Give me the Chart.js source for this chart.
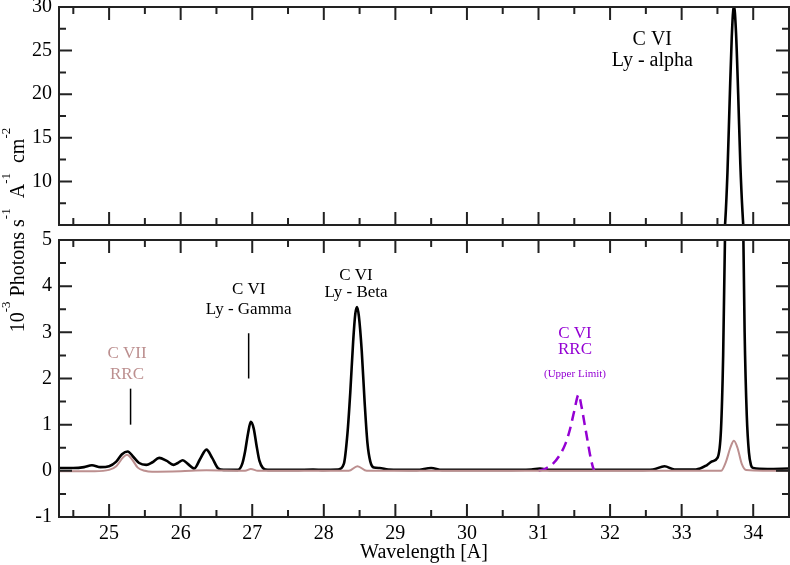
<!DOCTYPE html>
<html><head><meta charset="utf-8">
<script src="https://cdn.jsdelivr.net/npm/chart.js@4.4.0/dist/chart.umd.min.js"></script>
<style>
html,body{margin:0;padding:0;background:#fff;}
#wrap{position:relative;width:790px;height:565px;}
canvas{position:absolute;left:0;top:0;}
</style></head><body>
<div id="wrap"><canvas id="cb" width="790" height="565"></canvas><canvas id="ct" width="790" height="565"></canvas></div>
<script>
// ---------- DATA ----------
const xRange = [24.3, 34.5];
const topRange = [5, 30];
const bottomRange = [-1, 5];
const xMajorTicks = [25, 26, 27, 28, 29, 30, 31, 32, 33, 34];
const xMinorTicks = [24.5, 25.5, 26.5, 27.5, 28.5, 29.5, 30.5, 31.5, 32.5, 33.5];
const topMajorTicks = [10, 15, 20, 25, 30];
const topMinorTicks = [7.5, 12.5, 17.5, 22.5, 27.5];
const bottomMajorTicks = [-1, 0, 1, 2, 3, 4, 5];
const bottomMinorTicks = [-0.5, 0.5, 1.5, 2.5, 3.5, 4.5];

// total model spectrum (black)
const modelWave = [24.30,24.50,24.65,24.76,24.88,25.00,25.10,25.18,25.26,25.34,25.42,25.52,25.60,25.70,25.80,25.90,25.96,26.03,26.10,26.19,26.27,26.36,26.44,26.52,26.60,26.80,26.86,26.90,26.94,26.98,27.02,27.06,27.10,27.15,27.22,27.40,27.60,27.85,28.00,28.20,28.28,28.33,28.37,28.41,28.44,28.465,28.49,28.53,28.57,28.61,28.65,28.70,28.78,28.90,29.30,29.50,29.65,30.00,30.50,30.90,31.02,31.15,31.80,32.40,32.60,32.76,32.90,33.20,33.35,33.43,33.50,33.55,33.58,33.61,33.64,33.67,33.70,33.73,33.76,33.79,33.82,33.85,33.88,33.91,33.94,33.97,34.00,34.20,34.50];
const modelFlux = [0.06,0.06,0.08,0.12,0.08,0.10,0.20,0.36,0.42,0.30,0.17,0.13,0.18,0.28,0.22,0.13,0.17,0.23,0.15,0.05,0.25,0.46,0.28,0.06,0.02,0.02,0.15,0.42,0.80,1.06,0.92,0.55,0.22,0.06,0.02,0.02,0.02,0.03,0.02,0.03,0.15,0.80,1.70,2.80,3.40,3.55,3.35,2.60,1.50,0.60,0.20,0.07,0.06,0.03,0.02,0.06,0.02,0.02,0.02,0.03,0.05,0.02,0.02,0.02,0.03,0.10,0.03,0.03,0.12,0.21,0.28,0.90,2.50,5.50,11.0,19.0,26.5,30.2,27.0,20.0,12.0,6.5,3.0,1.2,0.4,0.12,0.06,0.04,0.05];

// C VII RRC component (rosy brown)
const rrc7Wave = [24.30,24.80,25.00,25.10,25.20,25.25,25.32,25.40,25.50,25.60,26.00,26.36,26.90,26.98,27.08,28.35,28.47,28.60,33.55,33.62,33.68,33.73,33.78,33.84,33.90,34.50];
const rrc7Flux = [-0.01,-0.01,0.02,0.10,0.30,0.35,0.25,0.07,0.00,-0.02,-0.01,0.01,0.00,0.04,0.00,0.00,0.10,0.00,0.00,0.20,0.50,0.65,0.50,0.15,0.02,0.00];

// C VI RRC upper limit (violet dashed)
const rrc6Wave = [31.00,31.10,31.20,31.30,31.38,31.44,31.50,31.56,31.60,31.64,31.68,31.72,31.76,31.78];
const rrc6Flux = [0.00,0.05,0.15,0.35,0.60,0.90,1.30,1.65,1.40,1.05,0.70,0.35,0.08,0.00];

// ---------- helpers ----------
const serif = "'Liberation Serif','DejaVu Serif',serif";
const zip = (xs, ys) => xs.map((x, i) => ({x, y: ys[i]}));
const FRAME = '#222';

function tickPlugin(yMajor, yMinor) {
  return {
    id: 'frameTicks',
    afterDatasetsDraw(chart) {
      const {ctx, chartArea: a, scales} = chart;
      ctx.save();
      ctx.strokeStyle = FRAME;
      ctx.lineWidth = 2;
      ctx.strokeRect(a.left, a.top, a.right - a.left, a.bottom - a.top);
      ctx.beginPath();
      const xs = scales.x, ys = scales.y;
      const mk = (vals, len, horiz) => vals.forEach(v => {
        if (horiz) {
          const p = xs.getPixelForValue(v);
          ctx.moveTo(p, a.bottom); ctx.lineTo(p, a.bottom - len);
          ctx.moveTo(p, a.top); ctx.lineTo(p, a.top + len);
        } else {
          const p = ys.getPixelForValue(v);
          ctx.moveTo(a.left, p); ctx.lineTo(a.left + len, p);
          ctx.moveTo(a.right, p); ctx.lineTo(a.right - len, p);
        }
      });
      mk(xMajorTicks, 13, true); mk(xMinorTicks, 7, true);
      mk(yMajor, 13, false); mk(yMinor, 7, false);
      ctx.stroke();
      ctx.restore();
    }
  };
}

function yScale(range, majors, widthPx) {
  return {
    type: 'linear', min: range[0], max: range[1],
    grid: {display: false, drawTicks: false}, border: {display: false},
    afterBuildTicks: s => { s.ticks = majors.map(v => ({value: v})); },
    ticks: {font: {family: serif, size: 20}, color: '#000', padding: 7, autoSkip: false},
    afterFit: s => { s.width = widthPx; s.paddingTop = 0; s.paddingBottom = 0; }
  };
}

const lineStyle = (color, width, dash) => ({
  borderColor: color, borderWidth: width, borderDash: dash || [],
  pointRadius: 0, fill: false, cubicInterpolationMode: 'monotone'
});

// ---------- bottom panel ----------
function label(ctx, chart, text, x, y, font, color) {
  ctx.font = font; ctx.fillStyle = color; ctx.textAlign = 'center'; ctx.textBaseline = 'middle';
  ctx.fillText(text, chart.scales.x.getPixelForValue(x), chart.scales.y.getPixelForValue(y));
}
function vline(ctx, chart, x, y0, y1) {
  const px = chart.scales.x.getPixelForValue(x);
  ctx.beginPath(); ctx.strokeStyle = '#000'; ctx.lineWidth = 1.5;
  ctx.moveTo(px, chart.scales.y.getPixelForValue(y0)); ctx.lineTo(px, chart.scales.y.getPixelForValue(y1)); ctx.stroke();
}

const bottomAnnot = {
  id: 'annot',
  afterDraw(chart) {
    const ctx = chart.ctx;
    ctx.save();
    const f17 = '17px ' + serif;
    label(ctx, chart, 'C VII', 25.25, 2.55, f17, '#bc8f8f');
    label(ctx, chart, 'RRC', 25.25, 2.09, f17, '#bc8f8f');
    vline(ctx, chart, 25.30, 1.0, 1.78);
    label(ctx, chart, 'C VI', 26.95, 3.93, f17, '#000');
    label(ctx, chart, 'Ly - Gamma', 26.95, 3.50, f17, '#000');
    vline(ctx, chart, 26.95, 2.0, 2.98);
    label(ctx, chart, 'C VI', 28.45, 4.24, f17, '#000');
    label(ctx, chart, 'Ly - Beta', 28.45, 3.87, f17, '#000');
    label(ctx, chart, 'C VI', 31.51, 2.98, f17, '#9400d3');
    label(ctx, chart, 'RRC', 31.51, 2.62, f17, '#9400d3');
    label(ctx, chart, '(Upper Limit)', 31.51, 2.10, '11px ' + serif, '#9400d3');
    // y-axis title with superscripts
    const parts = [['10',0],['-3',1],[' Photons s',0],['-1',1],['  A',0],['-1',1],['  cm',0],['-2',1]];
    const fMain = '20px ' + serif, fSup = '13px ' + serif;
    let total = 0;
    parts.forEach(p => { ctx.font = p[1] ? fSup : fMain; total += ctx.measureText(p[0]).width; });
    ctx.translate(24, 230);
    ctx.rotate(-Math.PI / 2);
    ctx.fillStyle = '#000'; ctx.textAlign = 'left'; ctx.textBaseline = 'alphabetic';
    let cx = -total / 2;
    parts.forEach(p => {
      ctx.font = p[1] ? fSup : fMain;
      ctx.fillText(p[0], cx, p[1] ? -14 : 0);
      cx += ctx.measureText(p[0]).width;
    });
    ctx.restore();
  }
};

new Chart(document.getElementById('cb'), {
  type: 'line',
  data: {datasets: [
    Object.assign({data: zip(rrc7Wave, rrc7Flux)}, lineStyle('#bc8f8f', 2)),
    Object.assign({data: zip(rrc6Wave, rrc6Flux)}, lineStyle('#9400d3', 2.5, [10, 6])),
    Object.assign({data: zip(modelWave, modelFlux)}, lineStyle('#000', 2.6))
  ]},
  options: {
    responsive: false, animation: false, devicePixelRatio: 1,
    layout: {padding: {top: 240, right: 1, left: 0, bottom: 0}},
    plugins: {legend: {display: false}, tooltip: {enabled: false}},
    scales: {
      x: {
        type: 'linear', min: xRange[0], max: xRange[1],
        grid: {display: false, drawTicks: false}, border: {display: false},
        afterBuildTicks: s => { s.ticks = xMajorTicks.map(v => ({value: v})); },
        ticks: {font: {family: serif, size: 20}, color: '#000', padding: 5, maxRotation: 0, autoSkip: false},
        title: {display: true, text: 'Wavelength [A]', font: {family: serif, size: 20}, color: '#000', padding: {top: 0, bottom: 0}},
        afterFit: s => { s.height = 48; s.paddingLeft = 0; s.paddingRight = 0; }
      },
      y: yScale(bottomRange, bottomMajorTicks, 59)
    }
  },
  plugins: [tickPlugin(bottomMajorTicks, bottomMinorTicks), bottomAnnot]
});

// ---------- top panel ----------
const topAnnot = {
  id: 'annotTop',
  afterDraw(chart) {
    const ctx = chart.ctx;
    ctx.save();
    label(ctx, chart, 'C VI', 32.59, 26.3, '20px ' + serif, '#000');
    label(ctx, chart, 'Ly - alpha', 32.59, 23.8, '20px ' + serif, '#000');
    ctx.restore();
  }
};

new Chart(document.getElementById('ct'), {
  type: 'line',
  data: {datasets: [
    Object.assign({data: zip(modelWave, modelFlux)}, lineStyle('#000', 2.6))
  ]},
  options: {
    responsive: false, animation: false, devicePixelRatio: 1,
    layout: {padding: {top: 7, right: 1, left: 0, bottom: 340}},
    plugins: {legend: {display: false}, tooltip: {enabled: false}},
    scales: {
      x: {type: 'linear', min: xRange[0], max: xRange[1], display: false},
      y: yScale(topRange, topMajorTicks, 59)
    }
  },
  plugins: [tickPlugin(topMajorTicks, topMinorTicks), topAnnot]
});
</script>
</body></html>
